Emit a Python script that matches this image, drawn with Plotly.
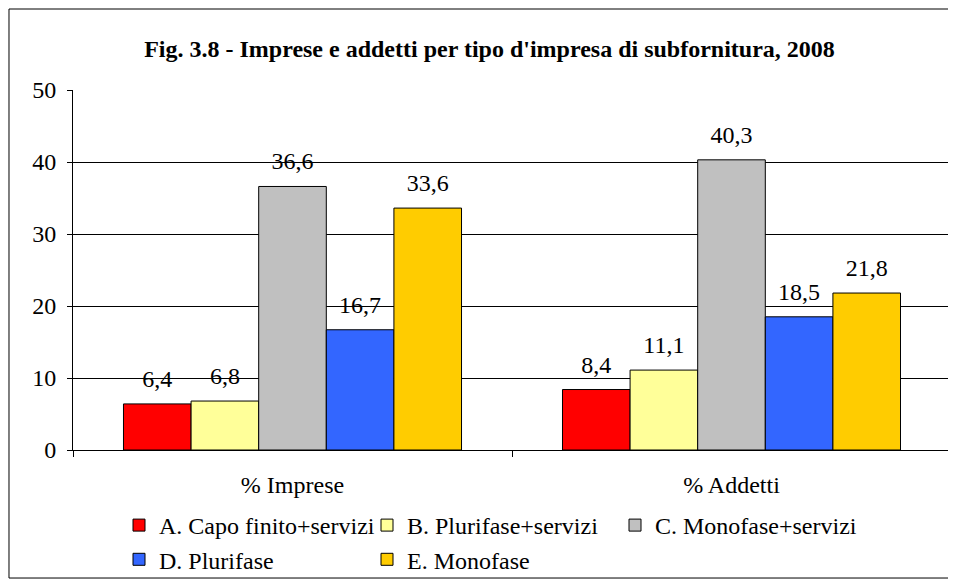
import plotly.graph_objects as go

categories = ["% Imprese", "% Addetti"]
series_names = [
    "A. Capo finito+servizi",
    "B. Plurifase+servizi",
    "C. Monofase+servizi",
    "D. Plurifase",
    "E. Monofase",
]
values = [
    [6.4, 8.4],
    [6.8, 11.1],
    [36.6, 40.3],
    [16.7, 18.5],
    [33.6, 21.8],
]
colors = ["#FF0000", "#FFFF99", "#C0C0C0", "#3366FF", "#FFCC00"]
y_ticks = [0, 10, 20, 30, 40, 50]

FONT = "Liberation Serif, Times New Roman, serif"
FS = 24

# the page puts the figure 8px in from the top-left, so the figure is
# sized 8px smaller than the window
W, H = 948, 573

fig = go.Figure()
for name, vals, col in zip(series_names, values, colors):
    fig.add_trace(go.Bar(
        x=categories,
        y=vals,
        name=name,
        marker=dict(color=col, line=dict(color="black", width=1)),
        hoverinfo="x+y+name",
    ))

# value labels, grouped like the bars so each sits over its own bar
for name, vals in zip(series_names, values):
    fig.add_trace(go.Scatter(
        x=categories,
        y=vals,
        name=name,
        mode="markers+text",
        text=[f"{v:.1f}".replace(".", ",") for v in vals],
        textposition="top center",
        textfont=dict(family=FONT, size=FS, color="black"),
        marker=dict(size=16, color="rgba(0,0,0,0)"),
        showlegend=False,
        hoverinfo="skip",
        cliponaxis=False,
    ))

# outer frame of the chart
fig.add_shape(type="rect", xref="paper", yref="paper",
              x0=-0.0729, x1=1.0, y0=-0.3556, y1=1.225,
              line=dict(color="black", width=1))

fig.update_layout(
    width=W,
    height=H,
    margin=dict(l=65, r=5, t=82, b=131),
    paper_bgcolor="white",
    plot_bgcolor="white",
    separators=",.",
    barmode="group",
    bargap=0.23,
    bargroupgap=0,
    scattermode="group",
    scattergap=0.23,
    font=dict(family=FONT, size=FS, color="black"),
    title=dict(
        text="<b>Fig. 3.8 - Imprese e addetti per tipo d'impresa di subfornitura, 2008</b>",
        x=481.5 / W, xref="container", xanchor="center",
        y=1 - 41 / H, yanchor="middle",
        font=dict(family=FONT, size=FS, color="black"),
    ),
    showlegend=True,
    legend=dict(
        orientation="h",
        xref="container", yref="container",
        x=111 / W, xanchor="left",
        y=1 - 495 / H, yanchor="top",
        entrywidth=203,
        entrywidthmode="pixels",
        font=dict(family=FONT, size=FS, color="black"),
        bgcolor="rgba(0,0,0,0)",
    ),
    xaxis=dict(
        automargin=False,
        showline=True, linecolor="black", linewidth=1,
        ticks="outside", tickson="boundaries", ticklen=6, tickcolor="black",
        ticklabelstandoff=13,
        tickfont=dict(family=FONT, size=FS),
    ),
    yaxis=dict(
        automargin=False,
        range=[0, 50],
        tickvals=y_ticks,
        showline=True, linecolor="black", linewidth=1,
        ticks="outside", ticklen=5, tickcolor="black",
        ticklabelstandoff=6,
        showgrid=True, gridcolor="black", gridwidth=1,
        zeroline=False,
        tickfont=dict(family=FONT, size=FS),
    ),
)

fig.write_html("out.html")
